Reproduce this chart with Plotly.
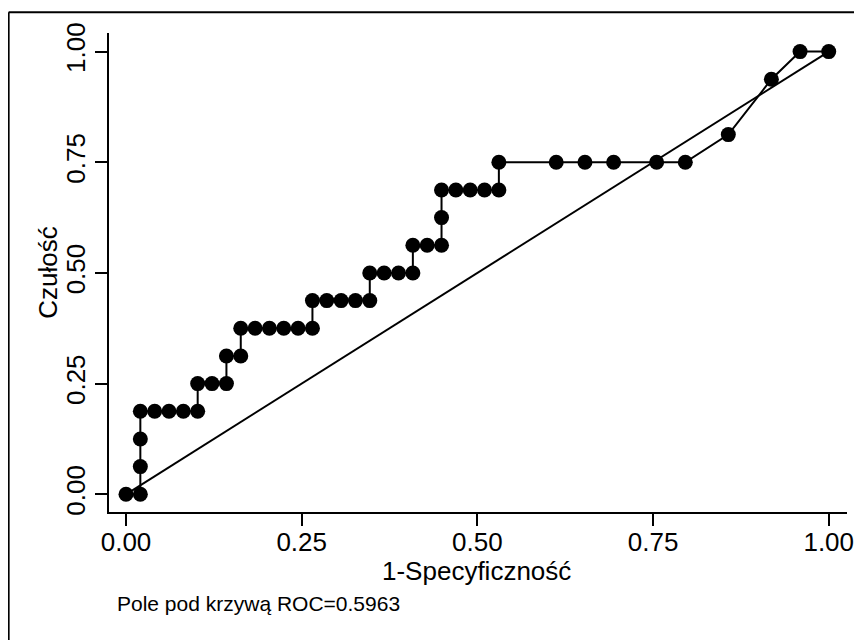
import plotly.graph_objects as go

# ROC curve points (1 - specificity, sensitivity)
fpr = [0.0, 0.0204, 0.0204, 0.0204, 0.0204, 0.0408, 0.0612, 0.0816, 0.1020,
       0.1020, 0.1224, 0.1429, 0.1429, 0.1633, 0.1633, 0.1837, 0.2041, 0.2245,
       0.2449, 0.2653, 0.2653, 0.2857, 0.3061, 0.3265, 0.3469, 0.3469, 0.3673,
       0.3878, 0.4082, 0.4082, 0.4286, 0.4490, 0.4490, 0.4490, 0.4694, 0.4898,
       0.5102, 0.5306, 0.5306, 0.6122, 0.6531, 0.6939, 0.7551, 0.7959, 0.8571,
       0.9184, 0.9592, 1.0]
tpr = [0.0, 0.0, 0.0625, 0.125, 0.1875, 0.1875, 0.1875, 0.1875, 0.1875,
       0.25, 0.25, 0.25, 0.3125, 0.3125, 0.375, 0.375, 0.375, 0.375,
       0.375, 0.375, 0.4375, 0.4375, 0.4375, 0.4375, 0.4375, 0.5, 0.5,
       0.5, 0.5, 0.5625, 0.5625, 0.5625, 0.625, 0.6875, 0.6875, 0.6875,
       0.6875, 0.6875, 0.75, 0.75, 0.75, 0.75, 0.75, 0.75, 0.8125,
       0.9375, 1.0, 1.0]
ref_x = [0.0, 1.0]
ref_y = [0.0, 1.0]
tick_vals = [0.0, 0.25, 0.5, 0.75, 1.0]
tick_text = ["0.00", "0.25", "0.50", "0.75", "1.00"]
auc_label = "Pole pod krzywą ROC=0.5963"
x_title = "1-Specyficzność"
y_title = "Czułość"

FONT = "Liberation Sans, Arial, sans-serif"

fig = go.Figure()
fig.add_trace(go.Scatter(x=fpr, y=tpr, mode="lines+markers",
                         line=dict(color="black", width=2),
                         marker=dict(color="black", size=15),
                         showlegend=False, hoverinfo="x+y"))
fig.add_trace(go.Scatter(x=ref_x, y=ref_y, mode="lines",
                         line=dict(color="black", width=2),
                         showlegend=False, hoverinfo="skip"))

axis_common = dict(showgrid=False, zeroline=False, showline=True,
                   linecolor="black", linewidth=2, ticks="outside",
                   ticklen=12, tickwidth=2, tickcolor="black",
                   tickvals=tick_vals, ticktext=tick_text, automargin=False,
                   tickfont=dict(family=FONT, size=26, color="black"))

# the page body adds an 8px margin, so the figure is sized to fit inside it
fig.update_layout(
    width=854, height=632,
    margin=dict(l=101, r=15, t=25, b=128),
    paper_bgcolor="white", plot_bgcolor="white",
    font=dict(family=FONT, color="black"),
    xaxis=dict(range=[-0.0242, 1.026], ticklabelstandoff=-6, **axis_common),
    yaxis=dict(range=[-0.040, 1.042], tickangle=-90, ticklabelstandoff=0,
               **axis_common),
    annotations=[
        dict(text=x_title, xref="paper", yref="paper",
             x=0.498, y=-0.1239, xanchor="center", yanchor="middle",
             showarrow=False, font=dict(family=FONT, size=26, color="black")),
        dict(text=y_title, xref="paper", yref="paper", textangle=-90,
             x=-0.0838, y=0.5, xanchor="center", yanchor="middle",
             showarrow=False, font=dict(family=FONT, size=26, color="black")),
        dict(text=auc_label, xref="paper", yref="paper",
             x=0.0077, y=-0.19, xanchor="left", yanchor="middle",
             showarrow=False, font=dict(family=FONT, size=21, color="black")),
    ],
    shapes=[
        dict(type="line", xref="paper", yref="paper",
             x0=-0.136, x1=-0.136, y0=1.0433, y1=-0.3,
             line=dict(color="black", width=2)),
        dict(type="line", xref="paper", yref="paper",
             x0=-0.136, x1=1.05, y0=1.0433, y1=1.0433,
             line=dict(color="black", width=2)),
    ],
)

fig.write_html("out.html")
